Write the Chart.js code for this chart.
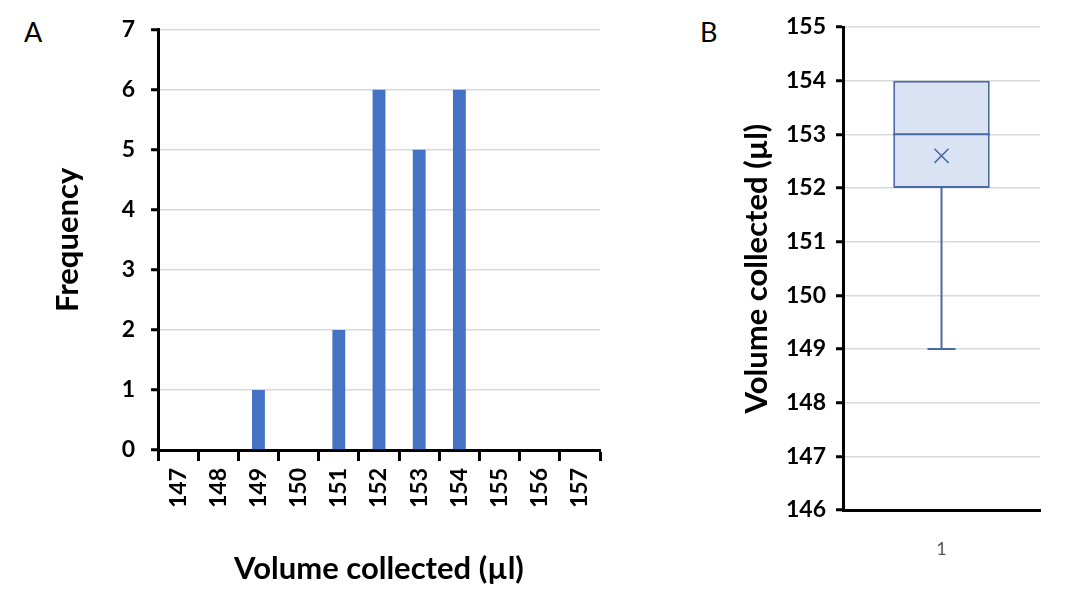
<!DOCTYPE html>
<html>
<head>
<meta charset="utf-8">
<script src="https://cdn.jsdelivr.net/npm/chart.js@4.4.1/dist/chart.umd.min.js"></script>
<style>
  body { margin: 0; background: #fff; width: 1086px; height: 602px; overflow: hidden; position: relative; font-family: Lato, sans-serif; }
  .panel { position: absolute; top: 0; }
  .letter { position: absolute; font-size: 27px; color: #000; }
</style>
</head>
<body>
<div class="letter" style="left:24px; top:15px;">A</div>
<div class="letter" style="left:700px; top:15px;">B</div>
<div class="panel" style="left:0px;"><canvas id="histChart" width="640" height="602"></canvas></div>
<div class="panel" style="left:690px;"><canvas id="boxChart" width="396" height="602"></canvas></div>

<script>
// histogram (panel A)
const volumes = ['147', '148', '149', '150', '151', '152', '153', '154', '155', '156', '157'];
const frequency = [0, 0, 1, 0, 2, 6, 5, 6, 0, 0, 0];

// box plot (panel B)
const boxLabels = ['1'];
const boxMin = [149];
const boxQ1 = [152];
const boxMedian = [153];
const boxQ3 = [154];
const boxMax = [154];
const boxMean = [152.6];

const blue = '#4472C4';
const boxLine = '#4a6aa6';
const gridGray = '#d9d9d9';
const tickFont = { family: 'Lato', size: 23, weight: 'bold' };
const titleFont = { family: 'Lato', size: 31, weight: 'bold' };

document.addEventListener('DOMContentLoaded', () => {
    new Chart(document.getElementById('histChart'), {
        type: 'bar',
        data: {
            labels: volumes,
            datasets: [{
                data: frequency,
                backgroundColor: blue,
                barPercentage: 0.32,
                categoryPercentage: 1
            }]
        },
        options: {
            responsive: false,
            animation: false,
            layout: { padding: { top: 29, right: 40, left: 0, bottom: 0 } },
            plugins: { legend: { display: false }, tooltip: { enabled: false } },
            scales: {
                x: {
                    grid: { drawOnChartArea: false, drawTicks: true, tickLength: 11, tickColor: '#000', tickWidth: 3 },
                    border: { color: '#000', width: 3 },
                    ticks: { color: '#000', font: tickFont, minRotation: 90, maxRotation: 90, padding: 7 },
                    title: { display: true, text: 'Volume collected (µl)', color: '#000', font: titleFont, padding: { top: 0, bottom: 14 } },
                    afterFit: (s) => { s.height = 152; }
                },
                y: {
                    min: 0,
                    max: 7,
                    ticks: { stepSize: 1, color: '#000', font: tickFont, padding: 16 },
                    grid: { color: gridGray, lineWidth: 1.5, tickLength: 7, tickColor: '#000', tickWidth: 3 },
                    border: { color: '#000', width: 3 },
                    title: { display: true, text: 'Frequency', color: '#000', font: titleFont, padding: { top: 49, bottom: 0 } },
                    afterFit: (s) => { s.width = 158; }
                }
            }
        }
    });

    // median, whiskers and caps, placed through the chart's own scales
    const boxExtras = {
        id: 'boxExtras',
        afterDatasetsDraw(chart) {
            const { ctx, scales: { x, y } } = chart;
            const bar = chart.getDatasetMeta(0).data;
            ctx.save();
            ctx.strokeStyle = boxLine;
            ctx.lineWidth = 2;
            boxLabels.forEach((lab, i) => {
                const cx = x.getPixelForValue(i);
                const half = bar[i].width / 2;
                const cap = half * 0.29;
                const yMed = y.getPixelForValue(boxMedian[i]);
                ctx.beginPath();
                ctx.moveTo(cx - half, yMed);
                ctx.lineTo(cx + half, yMed);
                // lower whisker
                ctx.moveTo(cx, y.getPixelForValue(boxQ1[i]));
                ctx.lineTo(cx, y.getPixelForValue(boxMin[i]));
                ctx.moveTo(cx - cap, y.getPixelForValue(boxMin[i]));
                ctx.lineTo(cx + cap, y.getPixelForValue(boxMin[i]));
                // upper whisker
                ctx.moveTo(cx, y.getPixelForValue(boxQ3[i]));
                ctx.lineTo(cx, y.getPixelForValue(boxMax[i]));
                ctx.stroke();
            });
            ctx.restore();
        }
    };

    new Chart(document.getElementById('boxChart'), {
        type: 'bar',
        data: {
            labels: boxLabels,
            datasets: [{
                data: boxQ1.map((q, i) => [q, boxQ3[i]]),
                backgroundColor: '#dae3f3',
                borderColor: boxLine,
                borderWidth: 2,
                borderSkipped: false,
                barPercentage: 0.49,
                categoryPercentage: 1,
                order: 2
            }, {
                type: 'line',
                data: boxMean,
                showLine: false,
                pointStyle: 'crossRot',
                pointRadius: 10,
                pointBorderWidth: 1.5,
                pointBorderColor: boxLine,
                order: 1
            }]
        },
        options: {
            responsive: false,
            animation: false,
            layout: { padding: { top: 27, right: 46, left: 0, bottom: 0 } },
            plugins: { legend: { display: false }, tooltip: { enabled: false } },
            scales: {
                x: {
                    grid: { display: false },
                    border: { color: '#000', width: 3 },
                    ticks: { color: '#595959', font: { family: 'Lato', size: 18 }, padding: 20 },
                    afterFit: (s) => { s.height = 92; }
                },
                y: {
                    min: 146,
                    max: 155,
                    ticks: { stepSize: 1, color: '#000', font: tickFont, padding: 10 },
                    grid: { color: gridGray, lineWidth: 1.5, tickLength: 7, tickColor: '#000', tickWidth: 3 },
                    border: { color: '#000', width: 3 },
                    title: { display: true, text: 'Volume collected (µl)', color: '#000', font: titleFont, padding: { top: 48, bottom: 0 } },
                    afterFit: (s) => { s.width = 153; }
                }
            }
        },
        plugins: [boxExtras]
    });
});
</script>
</body>
</html>
